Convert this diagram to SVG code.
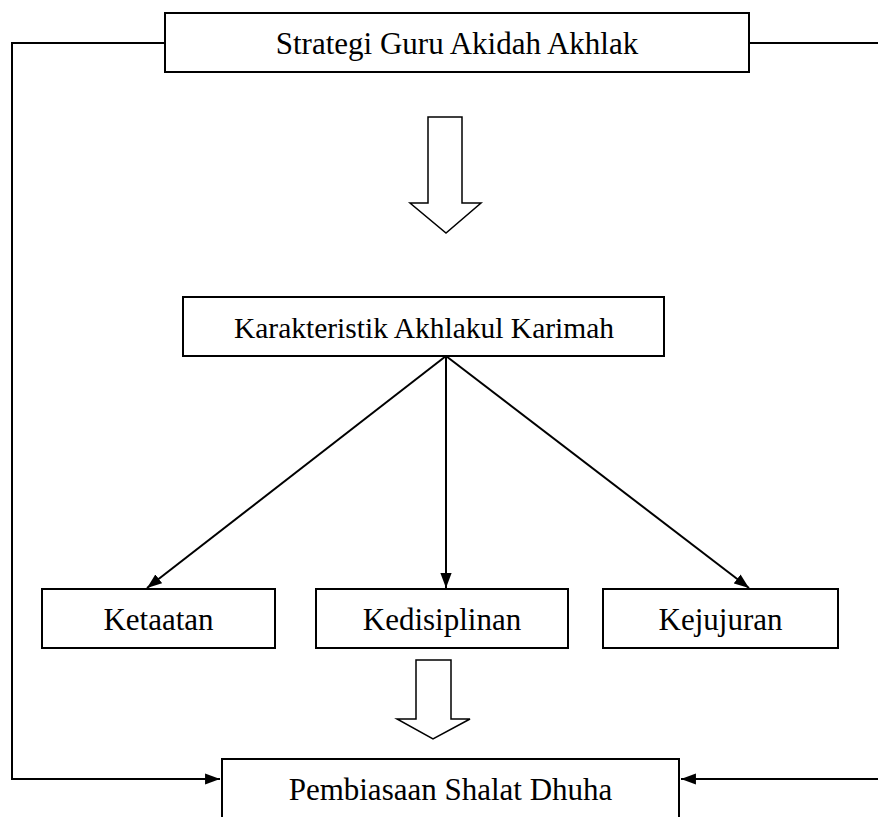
<svg xmlns="http://www.w3.org/2000/svg" width="878" height="817" viewBox="0 0 878 817">
<style>
.box{fill:#fff;stroke:#000;stroke-width:2}
.t{font-family:"Liberation Serif","Times New Roman",serif;font-size:31px;fill:#000;text-anchor:middle}
.ln{fill:none;stroke:#000;stroke-width:2}
.blk{fill:#fff;stroke:#000;stroke-width:1.5}
</style>
<defs>
<marker id="ah" viewBox="0 0 16 12" refX="16" refY="6" markerWidth="7.5" markerHeight="5.6" markerUnits="strokeWidth" orient="auto">
<path d="M0,0 L16,6 L0,12 z" fill="#000"/>
</marker>
</defs>
<g id="connectors">
<polyline class="ln" points="165,43 12,43 12,779 220,779" marker-end="url(#ah)"/>
<line class="ln" x1="749" y1="43" x2="878" y2="43"/>
<line class="ln" x1="878" y1="779" x2="681" y2="779" marker-end="url(#ah)"/>
<line class="ln" x1="446" y1="356" x2="147" y2="588" marker-end="url(#ah)"/>
<line class="ln" x1="446" y1="356" x2="446" y2="588" marker-end="url(#ah)"/>
<line class="ln" x1="446" y1="356" x2="749" y2="588" marker-end="url(#ah)"/>
<path class="blk" d="M428,117 H462 V203 H481 L446,233 L410,203 H428 Z"/>
<path class="blk" d="M416,660 H451 V719 H470 L433,739 L397,719 H416 Z"/>
</g>
<g id="strategi">
<rect class="box" x="165" y="13" width="584" height="59"/>
<text class="t" x="457" y="54">Strategi Guru Akidah Akhlak</text>
</g>
<g id="karakteristik">
<rect class="box" x="183" y="297" width="481" height="59"/>
<text class="t" x="424" y="338" style="font-size:29.5px">Karakteristik Akhlakul Karimah</text>
</g>
<g id="ketaatan">
<rect class="box" x="42" y="589" width="233" height="59"/>
<text class="t" x="158.5" y="630">Ketaatan</text>
</g>
<g id="kedisiplinan">
<rect class="box" x="316" y="589" width="252" height="59"/>
<text class="t" x="442" y="630">Kedisiplinan</text>
</g>
<g id="kejujuran">
<rect class="box" x="603" y="589" width="235" height="59"/>
<text class="t" x="720.5" y="630">Kejujuran</text>
</g>
<g id="pembiasaan">
<rect class="box" x="222" y="759" width="457" height="80"/>
<text class="t" x="450.5" y="800">Pembiasaan Shalat Dhuha</text>
</g>
</svg>
